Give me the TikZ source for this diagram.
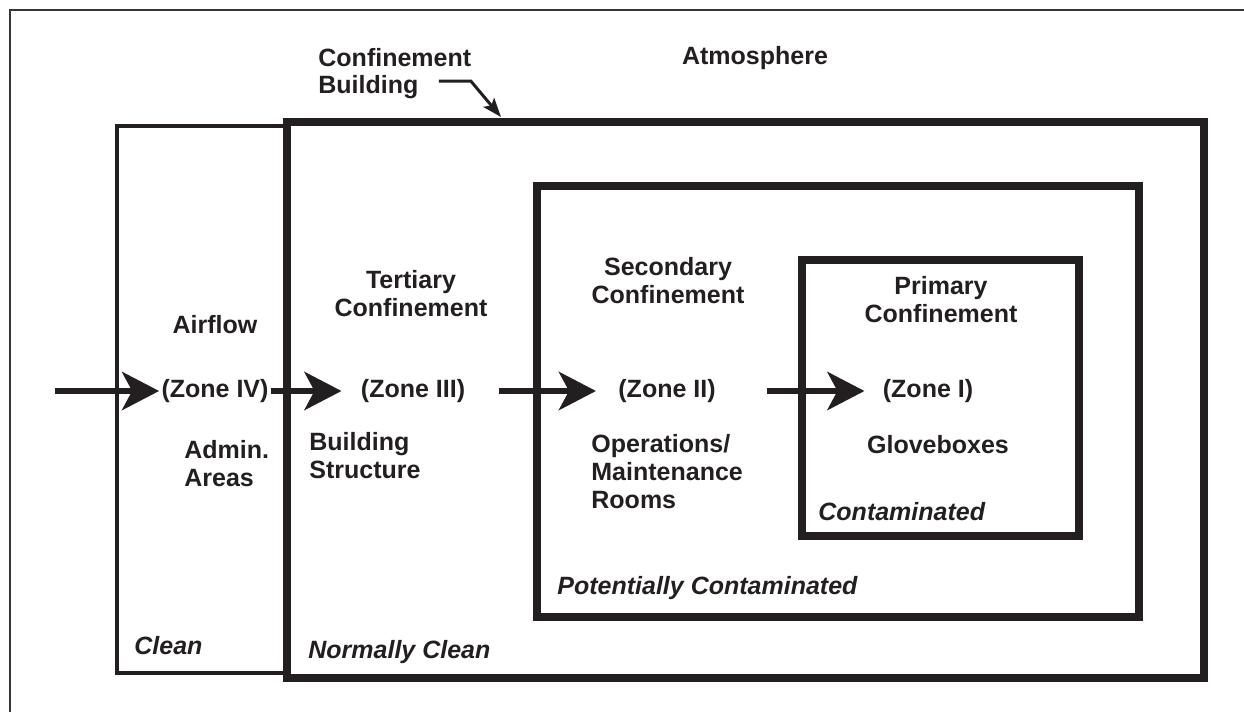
\documentclass[tikz,border=0pt]{standalone}
\usepackage{fontspec}
\setmainfont{Liberation Sans}
\usetikzlibrary{arrows.meta,positioning}
\definecolor{ink}{HTML}{231F20}

\begin{document}
\begin{tikzpicture}[
  x=0.5pt, y=-0.5pt,
  font=\bfseries\fontsize{12.5}{14}\selectfont,
  text=ink,
  wall/.style={draw=ink, line width=4pt},
  adminwall/.style={draw=ink, line width=2pt},
  outerframe/.style={draw=ink!90, line width=1.35pt},
  lbl/.style={align=center, inner sep=1pt},
  lblleft/.style={align=left, inner sep=1pt, anchor=west},
  tag/.style={font=\bfseries\itshape\fontsize{12.5}{14}\selectfont, inner sep=1pt, anchor=west},
  flow/.style={-{Stealth[length=18.5pt,width=19pt,inset=5pt]}, line width=3.3pt, draw=ink},
  pointer/.style={-{Stealth[length=9.5pt,width=7pt,inset=2pt]}, line width=1.5pt, draw=ink}
]
\useasboundingbox (0,0) rectangle (1244,712);

% frame and confinement walls
\draw[outerframe] (10,712) -- (10,10) -- (1244,10);
\draw[adminwall] (117,126) rectangle (287,673);
\draw[wall] (287,122) rectangle (1204,678);
\draw[wall] (537,186) rectangle (1139,617);
\draw[wall] (802,260) rectangle (1079,536);

% top labels
\node[lblleft] (cbtop) at (316,58) {Confinement};
\node[lblleft] (cbbot) at (316,87) {Building};
\node[lbl] (atmos) at (755,58) {Atmosphere};
\coordinate (cbtip) at (501,117);
\draw[pointer] ([shift={(9pt,3pt)}]cbbot.east) -- ++(32,0) -- (cbtip);

% confinement levels
\node[lbl] (airflow) at (215,325) {Airflow};
\node[lbl] (tert) at (411,294) {Tertiary\\Confinement};
\node[lbl] (sec) at (668,281) {Secondary\\Confinement};
\node[lbl] (prim) at (941,300) {Primary\\Confinement};

% zones
\node[lbl] (zone4) at (215,391) {(Zone IV)};
\node[lbl] (zone3) at (413,391) {(Zone III)};
\node[lbl] (zone2) at (667,391) {(Zone II)};
\node[lbl] (zone1) at (928,391) {(Zone I)};

% areas
\node[lblleft] (admin) at (182,464) {Admin.\\Areas};
\node[lblleft] (bldg) at (307,456) {Building\\Structure};
\node[lblleft] (ops) at (589,472) {Operations/\\Maintenance\\Rooms};
\node[lbl] (glove) at (938,445) {Gloveboxes};

% cleanliness
\node[tag] (contam) at (816,512) {Contaminated};
\node[tag] (potcontam) at (555,588) {Potentially Contaminated};
\node[tag] (clean) at (132,646) {Clean};
\node[tag] (normclean) at (306,652) {Normally Clean};

% airflow arrows
\coordinate (inlet) at (55,391);
\draw[flow] (inlet) -- (zone4.west);
\draw[flow] (zone4.east) -- ([xshift=-8.5pt]zone3.west);
\draw[flow] ([xshift=16pt]zone3.east) -- ([xshift=-10pt]zone2.west);
\draw[flow] ([xshift=24.5pt]zone2.east) -- ([xshift=-8pt]zone1.west);
\end{tikzpicture}
\end{document}
